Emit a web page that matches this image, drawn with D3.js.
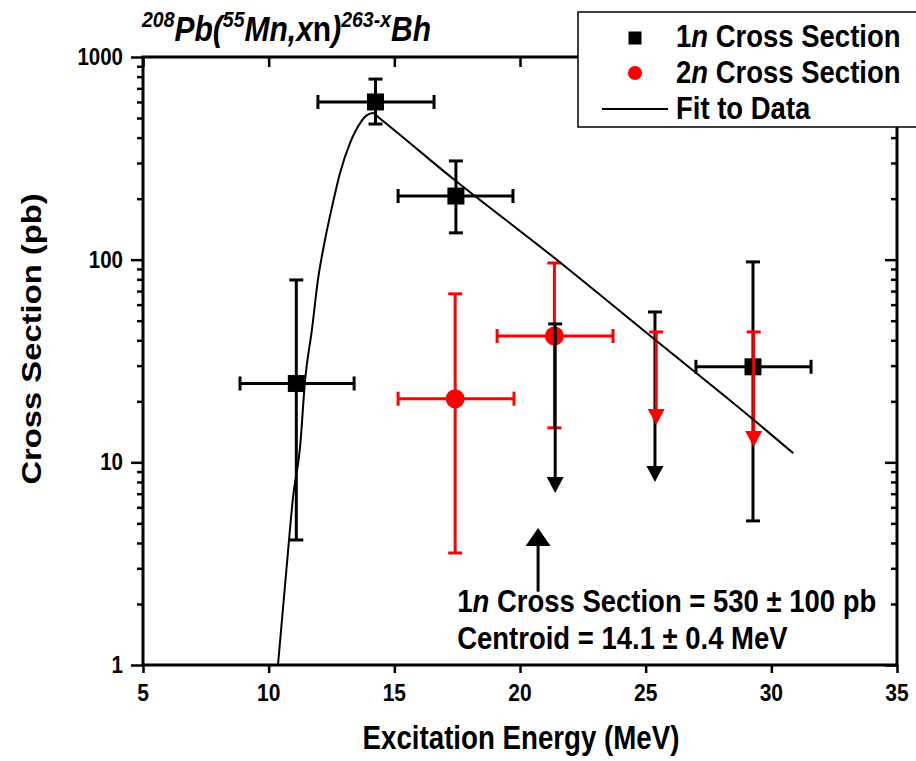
<!DOCTYPE html>
<html lang="en">
<head>
<meta charset="UTF-8">
<title>208Pb(55Mn,xn)263-xBh cross sections</title>
<script src="https://cdn.jsdelivr.net/npm/d3@7"></script>
<style>
    body { margin: 0; background: #fff; }
    svg text { font-family: "Liberation Sans", Arial, Helvetica, sans-serif; font-weight: bold; fill: #000; }
</style>
</head>
<body>
<svg id="chart" width="916" height="761"></svg>
<script>
// ---- data ----
// 1n cross section (black squares)
const oneN_E    = [11.1, 14.25, 17.45, 29.27];
const oneN_XS   = [24.5, 600, 206, 29.6];
const oneN_hi   = [79.4, 778, 307, 97.5];
const oneN_lo   = [4.14, 467, 135.6, 5.14];
const oneN_Elo  = [8.86, 11.96, 15.15, 27.0];
const oneN_Ehi  = [13.4, 16.58, 19.72, 31.58];

// 2n cross section (red circles)
const twoN_E    = [17.42, 21.37];
const twoN_XS   = [20.6, 42.0];
const twoN_hi   = [67.8, 96.3];
const twoN_lo   = [3.57, 14.8];
const twoN_Elo  = [15.15, 19.09];
const twoN_Ehi  = [19.76, 23.7];

// upper limits (arrows pointing down)
const oneN_limE   = [21.4, 25.37];
const oneN_limTop = [48.2, 55.2];
const oneN_limTip = [7.06, 8.0];
const twoN_limE   = [25.42, 29.3];
const twoN_limTop = [44, 44];
const twoN_limTip = [15.3, 11.9];

// fit to data
const fitE  = [10.37, 10.73, 10.97, 11.25, 11.45, 11.72, 11.96, 12.24, 12.52, 12.84, 13.24, 13.64, 13.9, 14.15, 14.4, 17.4, 21.2, 25.4, 29.3, 30.87];
const fitXS = [1, 3.19, 6.74, 11.9, 25.5, 45, 79.4, 125, 182, 268, 377, 472, 515, 529, 500, 247, 106, 40, 16.2, 11.1];

// axes
const xTicks = [5, 10, 15, 20, 25, 30, 35];
const yTicks = [1, 10, 100, 1000];
const yMinor = [];
[1, 10, 100].forEach(d => { for (let k = 2; k <= 9; k++) yMinor.push(d * k); });

// annotation
const annoArrowE = 20.72, annoArrowTip = 4.74, annoArrowBase = 2.3;
const annoTextE = 17.5, annoTextXS = [1.83, 1.2];

// ---- drawing ----
const SY = 1.17;   // the figure's text is a bit taller than wide
const svg = d3.select("#chart");
svg.append("rect").attr("width", 916).attr("height", 761).attr("fill", "#fff");

const pLeft = 143, pRight = 897, pTop = 57, pBottom = 665;
const x = d3.scaleLinear().domain([5, 35]).range([pLeft, pRight]);
const y = d3.scaleLog().domain([1, 1000]).range([pBottom, pTop]);

function txt(px, py, size, anchor) {
    return svg.append("text")
        .attr("transform", `translate(${px},${py}) scale(1,${SY})`)
        .attr("font-size", size)
        .attr("text-anchor", anchor || "start");
}

// ticks
function tickAxis(axis, tx, ty) {
    const g = svg.append("g").attr("transform", `translate(${tx},${ty})`).call(axis);
    g.select(".domain").remove();
    g.selectAll("line").attr("stroke", "#000").attr("stroke-width", 2.5);
    return g;
}
tickAxis(d3.axisBottom(x).tickValues(xTicks).tickSize(8).tickSizeOuter(0).tickFormat(""), 0, pBottom);
tickAxis(d3.axisBottom(x).tickValues(xTicks).tickSize(10).tickSizeOuter(0).tickFormat(""), 0, pTop);
tickAxis(d3.axisLeft(y).tickValues(yTicks).tickSize(12).tickSizeOuter(0).tickFormat(""), pLeft, 0);
tickAxis(d3.axisLeft(y).tickValues(yMinor).tickSize(6).tickSizeOuter(0).tickFormat(""), pLeft, 0);
tickAxis(d3.axisLeft(y).tickValues(yTicks).tickSize(12).tickSizeOuter(0).tickFormat(""), pRight, 0);
tickAxis(d3.axisLeft(y).tickValues(yMinor).tickSize(6).tickSizeOuter(0).tickFormat(""), pRight, 0);

svg.append("rect")
    .attr("x", pLeft).attr("y", pTop)
    .attr("width", pRight - pLeft).attr("height", pBottom - pTop)
    .attr("fill", "none").attr("stroke", "#000").attr("stroke-width", 3);

// tick labels
xTicks.forEach(v => txt(x(v), 701, 21, "middle").text(v));
yTicks.forEach(v => txt(123, y(v) + 8, 20.5, "end").text(v));

// axis titles
txt(521, 749, 27.7, "middle").text("Excitation Energy (MeV)");
svg.append("text")
    .attr("transform", `translate(41,${(pTop + pBottom) / 2 - 22}) rotate(-90) scale(${SY},1)`)
    .attr("font-size", 28).attr("text-anchor", "middle")
    .text("Cross Section (pb)");

// error bars
const CAP = 7;
function errorBars(E, XS, lo, hi, Elo, Ehi, color) {
    const g = svg.append("g").attr("stroke", color).attr("stroke-width", 3).attr("fill", "none");
    E.forEach((e, i) => {
        const cx = x(e), cy = y(XS[i]);
        g.append("line").attr("x1", cx).attr("x2", cx).attr("y1", y(hi[i])).attr("y2", y(lo[i]));
        g.append("line").attr("x1", cx - CAP).attr("x2", cx + CAP).attr("y1", y(hi[i])).attr("y2", y(hi[i]));
        g.append("line").attr("x1", cx - CAP).attr("x2", cx + CAP).attr("y1", y(lo[i])).attr("y2", y(lo[i]));
        g.append("line").attr("x1", x(Elo[i])).attr("x2", x(Ehi[i])).attr("y1", cy).attr("y2", cy);
        g.append("line").attr("x1", x(Elo[i])).attr("x2", x(Elo[i])).attr("y1", cy - CAP).attr("y2", cy + CAP);
        g.append("line").attr("x1", x(Ehi[i])).attr("x2", x(Ehi[i])).attr("y1", cy - CAP).attr("y2", cy + CAP);
    });
}

function limits(E, topV, tipV, color) {
    const g = svg.append("g");
    E.forEach((e, i) => {
        const cx = x(e), yt = y(topV[i]), yp = y(tipV[i]);
        g.append("line").attr("x1", cx).attr("x2", cx).attr("y1", yt).attr("y2", yp - 10)
            .attr("stroke", color).attr("stroke-width", 3);
        g.append("line").attr("x1", cx - CAP).attr("x2", cx + CAP).attr("y1", yt).attr("y2", yt)
            .attr("stroke", color).attr("stroke-width", 3);
        g.append("path").attr("d", `M${cx - 8.5},${yp - 16}L${cx + 8.5},${yp - 16}L${cx},${yp}Z`)
            .attr("fill", color);
    });
}

// 1n points
errorBars(oneN_E, oneN_XS, oneN_lo, oneN_hi, oneN_Elo, oneN_Ehi, "#000");
svg.append("g").selectAll("rect").data(oneN_E).join("rect")
    .attr("x", d => x(d) - 8.5).attr("y", (d, i) => y(oneN_XS[i]) - 8.5)
    .attr("width", 17).attr("height", 17).attr("fill", "#000");

// 2n points
errorBars(twoN_E, twoN_XS, twoN_lo, twoN_hi, twoN_Elo, twoN_Ehi, "#ff0000");
svg.append("g").selectAll("circle").data(twoN_E).join("circle")
    .attr("cx", d => x(d)).attr("cy", (d, i) => y(twoN_XS[i]))
    .attr("r", 9.5).attr("fill", "#ff0000");

limits(oneN_limE, oneN_limTop, oneN_limTip, "#000");
limits(twoN_limE, twoN_limTop, twoN_limTip, "#ff0000");

// fit
const fitLine = d3.line().x(d => x(d[0])).y(d => y(d[1])).curve(d3.curveMonotoneX);
svg.append("path")
    .attr("d", fitLine(fitE.map((e, i) => [e, fitXS[i]])))
    .attr("fill", "none").attr("stroke", "#000").attr("stroke-width", 2);

// annotation arrow + text
{
    const ax = x(annoArrowE), tip = y(annoArrowTip), base = y(annoArrowBase);
    svg.append("line").attr("x1", ax).attr("x2", ax).attr("y1", base).attr("y2", tip + 14)
        .attr("stroke", "#000").attr("stroke-width", 3);
    svg.append("path").attr("d", `M${ax - 12.5},${tip + 18}L${ax + 12.5},${tip + 18}L${ax},${tip}Z`).attr("fill", "#000");
    const t1 = txt(x(annoTextE), y(annoTextXS[0]), 27.5);
    t1.append("tspan").text("1");
    t1.append("tspan").attr("font-style", "italic").text("n");
    t1.append("tspan").text(" Cross Section = 530 \u00b1 100 pb");
    txt(x(annoTextE), y(annoTextXS[1]), 27.5).text("Centroid = 14.1 \u00b1 0.4 MeV");
}

// title
{
    const t = txt(142, 41, 30).attr("font-style", "italic");
    const sup = (s) => { t.append("tspan").attr("font-size", 19.5).attr("dy", -12).text(s); };
    const base = (s) => t.append("tspan").attr("dy", 12).text(s);
    t.append("tspan").attr("font-size", 19.5).attr("dy", -12).text("208");
    base("Pb(");
    sup("55");
    base("Mn,x");
    t.append("tspan").attr("font-style", "normal").text("n");
    t.append("tspan").text(")");
    sup("263-x");
    base("Bh");
}

// legend
{
    const lg = svg.append("g");
    lg.append("rect").attr("x", 578).attr("y", 12).attr("width", 360).attr("height", 115)
        .attr("fill", "#fff").attr("stroke", "#000").attr("stroke-width", 1.5);
    lg.append("rect").attr("x", 635 - 6.5).attr("y", 38 - 6.5).attr("width", 13).attr("height", 13).attr("fill", "#000");
    lg.append("circle").attr("cx", 635).attr("cy", 73).attr("r", 7).attr("fill", "#ff0000");
    lg.append("line").attr("x1", 602).attr("x2", 668).attr("y1", 109).attr("y2", 109)
        .attr("stroke", "#000").attr("stroke-width", 2);
    const r1 = txt(676, 47, 27.5);
    r1.append("tspan").text("1");
    r1.append("tspan").attr("font-style", "italic").text("n");
    r1.append("tspan").text(" Cross Section");
    const r2 = txt(676, 83, 27.5);
    r2.append("tspan").text("2");
    r2.append("tspan").attr("font-style", "italic").text("n");
    r2.append("tspan").text(" Cross Section");
    txt(676, 119, 27.5).text("Fit to Data");
}
</script>
</body>
</html>
